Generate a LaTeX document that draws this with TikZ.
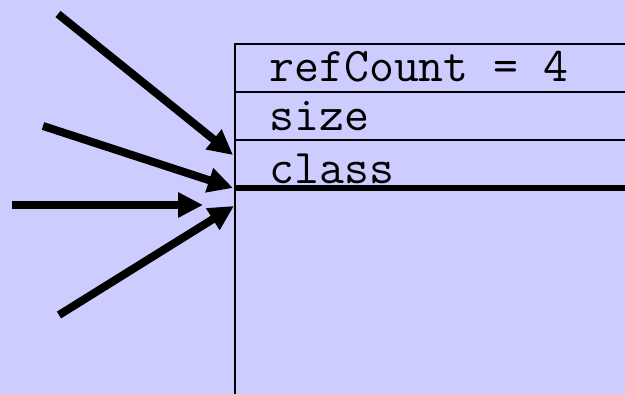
\documentclass[tikz,border=0pt]{standalone}
\usetikzlibrary{positioning,arrows.meta}
\definecolor{slideLilac}{HTML}{CCCCFF}
\tikzset{
  slot/.style={draw=black,line width=1pt,minimum width=202.5pt,
    minimum height=24pt,inner sep=0pt,outer sep=0pt},
  slottext/.style={font=\fontsize{24.2}{26}\selectfont\ttfamily,
    inner sep=0pt,anchor=base west},
  ptr/.style={-{Triangle[length=12.5pt,width=12pt]},line width=4pt}
}

\begin{document}
\begin{tikzpicture}[x=0.5pt,y=-0.5pt]
  \useasboundingbox (0,0) rectangle (625,394);
  \fill[slideLilac] (0,0) rectangle (625,394);
  \clip (0,0) rectangle (625,394);

  \node[slot,anchor=north west] (refcount) at (235,44) {};
  \node[slot,below=0pt of refcount] (size) {};
  \node[slot,below=0pt of size] (cls) {};
  \node[slot,below=0pt of cls,minimum height=106pt] (body) {};
  \draw[line width=2.75pt] (body.north west) -- (body.north east);

  \node[slottext] (reflbl) at ([xshift=17pt,yshift=-19pt]refcount.north west) {refCount = 4};
  \node[slottext] (sizelbl) at ([xshift=17pt,yshift=-19.5pt]size.north west) {size};
  \node[slottext] (clslbl) at ([xshift=17pt,yshift=-22pt]cls.north west) {class};

  \coordinate (src1) at (58,14);
  \coordinate (src2) at (43,126);
  \coordinate (src3) at (12,205);
  \coordinate (src4) at (59,315);
  \coordinate (tip1) at ([xshift=-1pt,yshift=-7.5pt]cls.north west);
  \coordinate (tip2) at ([xshift=-1pt]cls.south west);
  \coordinate (tip3) at ([xshift=-16pt,yshift=-8.5pt]body.north west);
  \coordinate (tip4) at ([xshift=-0.5pt,yshift=-9pt]body.north west);

  \draw[ptr] (src1) -- (tip1);
  \draw[ptr] (src2) -- (tip2);
  \draw[ptr] (src3) -- (tip3);
  \draw[ptr] (src4) -- (tip4);
\end{tikzpicture}
\end{document}
